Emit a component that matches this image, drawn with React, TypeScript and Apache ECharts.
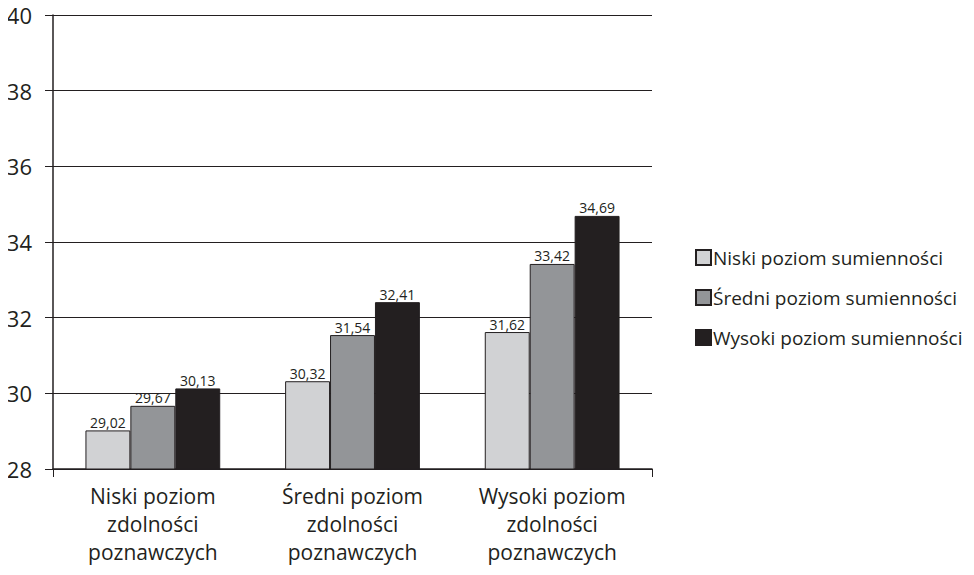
import React, { useEffect, useRef } from "react";
import * as echarts from "echarts";

const categories = [
  "Niski poziom\nzdolności\npoznawczych",
  "Średni poziom\nzdolności\npoznawczych",
  "Wysoki poziom\nzdolności\npoznawczych",
];
const seriesNames = [
  "Niski poziom sumienności",
  "Średni poziom sumienności",
  "Wysoki poziom sumienności",
];
const lowValues = [29.02, 30.32, 31.62];
const midValues = [29.67, 31.54, 33.42];
const highValues = [30.13, 32.41, 34.69];
const colors = ["#d1d2d4", "#939598", "#231f20"];

const FONT = "'Open Sans', 'DejaVu Sans', sans-serif";
const INK = "#231f20";

export default function App() {
  const ref = useRef<HTMLDivElement>(null);
  useEffect(() => {
    if (!ref.current) return;
    const chart = echarts.init(ref.current, undefined, { renderer: "svg" });
    const values = [lowValues, midValues, highValues];
    chart.setOption({
      animation: false,
      backgroundColor: "#ffffff",
      textStyle: { fontFamily: FONT, color: INK },
      grid: { left: 53, right: 322, top: 13, bottom: 106, containLabel: false },
      legend: {
        orient: "vertical",
        left: 690,
        top: 243,
        itemWidth: 15,
        itemHeight: 15,
        itemGap: 21,
        icon: "rect",
        textStyle: { fontFamily: FONT, fontSize: 19, color: INK, padding: [0, 0, 0, -3] },
        data: seriesNames,
      },
      xAxis: {
        type: "category",
        data: categories,
        axisLine: { show: true, lineStyle: { color: INK, width: 1.5 } },
        axisTick: { show: true, interval: (i: number) => i === 0, length: 8, lineStyle: { color: INK } },
        axisLabel: {
          fontFamily: FONT,
          fontSize: 21,
          color: INK,
          lineHeight: 28,
          margin: 13,
          interval: 0,
        },
      },
      yAxis: {
        type: "value",
        min: 28,
        max: 40,
        interval: 2,
        axisLine: { show: true, lineStyle: { color: INK, width: 1.5 } },
        axisTick: { show: true, length: 8, lineStyle: { color: INK } },
        splitLine: { show: true, lineStyle: { color: INK, width: 1 } },
        axisLabel: {
          fontFamily: FONT,
          fontSize: 22,
          color: INK,
          margin: 21,
          lineHeight: 24,
          padding: [6, 0, 0, 0],
        },
      },
      series: seriesNames.map((name, i) => ({
        name,
        type: "bar",
        data: values[i],
        barGap: "0%",
        barCategoryGap: "32.5%",
        itemStyle: { color: colors[i], borderColor: INK, borderWidth: 1 },
        label: {
          show: true,
          position: "top",
          distance: 1,
          fontFamily: FONT,
          fontSize: 14,
          color: INK,
          formatter: (p: any) => p.value.toFixed(2).replace(".", ","),
        },
      })),
    });
    return () => chart.dispose();
  }, []);
  return <div ref={ref} style={{ width: 974, height: 575, margin: -8 }} />;
}
